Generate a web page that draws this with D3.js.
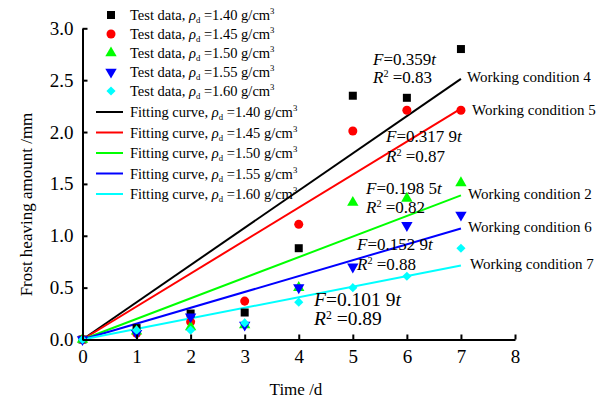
<!DOCTYPE html>
<html>
<head>
<meta charset="utf-8">
<script src="https://cdn.jsdelivr.net/npm/d3@7"></script>
<style>
  html, body { margin: 0; padding: 0; background: #fff; }
  svg { display: block; }
  text { font-family: "Times New Roman", "Liberation Serif", serif; fill: #000; }
</style>
</head>
<body>
<svg id="chart" width="602" height="399"></svg>
<script>
// ---- data ----
const days = [0, 1, 2, 3, 4, 5, 6, 7];
const densities = ["1.40", "1.45", "1.50", "1.55", "1.60"];
const test140 = [0, 0.11, 0.25, 0.26, 0.88, 2.35, 2.33, 2.80];
const test145 = [0, 0.06, 0.17, 0.37, 1.11, 2.01, 2.21, 2.21];
const test150 = [0, 0.08, 0.12, 0.14, 0.50, 1.32, 1.36, 1.51];
const test155 = [0, 0.06, 0.22, 0.14, 0.50, 0.70, 1.10, 1.20];
const test160 = [0, 0.09, 0.09, 0.16, 0.36, 0.50, 0.61, 0.88];
const slopes = [0.359, 0.3179, 0.1985, 0.1529, 0.1019];
const slopeText = ["0.359", "0.317 9", "0.198 5", "0.152 9", "0.101 9"];
const r2Text = ["0.83", "0.87", "0.82", "0.88", "0.89"];
const conditions = ["Working condition 4", "Working condition 5", "Working condition 2", "Working condition 6", "Working condition 7"];
const xTicks = [0, 1, 2, 3, 4, 5, 6, 7, 8];
const yTicks = [0, 0.5, 1.0, 1.5, 2.0, 2.5, 3.0];

const series = [test140, test145, test150, test155, test160];
const colors = ["#000000", "#ff0000", "#00ff00", "#0000ff", "#00ffff"];
const symbols = [d3.symbolSquare, d3.symbolCircle, d3.symbolTriangle, d3.symbolTriangle, d3.symbolSquare];
const symRot = [0, 0, 0, 180, 45];
const symSize = [64, 64, 56, 56, 42];

// ---- layout ----
const svg = d3.select("#chart");
const x = d3.scaleLinear().domain([0, 8]).range([82.5, 515]);
const y = d3.scaleLinear().domain([0, 3]).range([339.5, 28.3]);

// fit lines
const fitT = [0, 7];
const line = d3.line().x(d => x(d[0])).y(d => y(d[1]));
const gl = svg.append("g");
slopes.forEach((k, i) => {
  gl.append("path")
    .attr("d", line(fitT.map(t => [t, k * t])))
    .attr("fill", "none").attr("stroke", colors[i]).attr("stroke-width", 2);
});

// markers
const gm = svg.append("g");
series.forEach((vals, i) => {
  gm.selectAll(null).data(vals).enter().append("path")
    .attr("d", d3.symbol().type(symbols[i]).size(symSize[i]))
    .attr("transform", (v, j) => `translate(${x(days[j])},${y(v)}) rotate(${symRot[i]})`)
    .attr("fill", colors[i]);
});

// axes
const xAxis = d3.axisBottom(x).tickValues(xTicks).tickSizeInner(-5).tickSizeOuter(0).tickPadding(10).tickFormat(d3.format("d"));
const gx = svg.append("g").attr("transform", `translate(0,${y(0)})`).call(xAxis);
const yAxis = d3.axisLeft(y).tickValues(yTicks).tickSizeInner(-5).tickSizeOuter(0).tickPadding(9).tickFormat(d3.format(".1f"));
const gy = svg.append("g").attr("transform", `translate(${x(0)},0)`).call(yAxis);
[gx, gy].forEach(g => {
  g.select(".domain").attr("stroke", "#000").attr("stroke-width", 2);
  g.selectAll(".tick line").attr("stroke", "#000").attr("stroke-width", 2);
  g.selectAll(".tick text").attr("font-family", "'Times New Roman','Liberation Serif',serif").attr("font-size", 19).attr("fill", "#000");
});
gx.selectAll(".tick text").attr("dy", "0.71em");

// axis titles
svg.append("text").attr("x", 296).attr("y", 395).attr("text-anchor", "middle")
  .attr("font-size", 17).text("Time /d");
svg.append("text").attr("transform", "translate(32,204.5) rotate(-90)").attr("text-anchor", "middle")
  .attr("font-size", 17).text("Frost heaving amount /mm");

// legend
function rhoText(sel, prefix, dens, fs) {
  sel.append("tspan").text(prefix);
  sel.append("tspan").attr("font-style", "italic").text("\u03c1");
  sel.append("tspan").attr("font-size", fs * 0.6).attr("dy", 3).text("d");
  sel.append("tspan").attr("dy", -3).text(" =" + dens + " g/cm");
  sel.append("tspan").attr("font-size", fs * 0.6).attr("dy", -6).text("3");
}
const lgFs = 14.5;
const gLeg = svg.append("g");
densities.forEach((dn, i) => {
  const yy = 15 + i * 19;
  gLeg.append("path").attr("d", d3.symbol().type(symbols[i]).size(symSize[i]))
    .attr("transform", `translate(111,${yy}) rotate(${symRot[i]})`).attr("fill", colors[i]);
  const t = gLeg.append("text").attr("x", 130).attr("y", yy + 5).attr("font-size", lgFs);
  rhoText(t, "Test data, ", dn, lgFs);
});
densities.forEach((dn, i) => {
  const yy = 112 + i * 20.5;
  gLeg.append("line").attr("x1", 96).attr("x2", 123).attr("y1", yy).attr("y2", yy)
    .attr("stroke", colors[i]).attr("stroke-width", 2);
  const t = gLeg.append("text").attr("x", 130).attr("y", yy + 5).attr("font-size", lgFs);
  rhoText(t, "Fitting curve, ", dn, lgFs);
});

// equation annotations
const eqPos = [[373, 65, 17], [386, 142, 17], [366, 194, 17], [357, 250, 17], [314, 306, 19.5]];
const r2Pos = [[373, 83], [386, 162], [366, 213], [357, 270], [314, 325]];
slopeText.forEach((s, i) => {
  const fs = eqPos[i][2];
  const t = svg.append("text").attr("x", eqPos[i][0]).attr("y", eqPos[i][1]).attr("font-size", fs);
  t.append("tspan").attr("font-style", "italic").text("F");
  t.append("tspan").text("=" + s);
  t.append("tspan").attr("font-style", "italic").text("t");
  const r = svg.append("text").attr("x", r2Pos[i][0]).attr("y", r2Pos[i][1]).attr("font-size", fs);
  r.append("tspan").attr("font-style", "italic").text("R");
  r.append("tspan").attr("font-size", fs * 0.6).attr("dy", -6).text("2");
  r.append("tspan").attr("dy", 6).text(" =" + r2Text[i]);
});

// working condition labels
const condPos = [[467, 82], [472, 115], [468, 199], [468, 232], [470, 269]];
conditions.forEach((c, i) => {
  svg.append("text").attr("x", condPos[i][0]).attr("y", condPos[i][1]).attr("font-size", 15).text(c);
});
</script>
</body>
</html>
